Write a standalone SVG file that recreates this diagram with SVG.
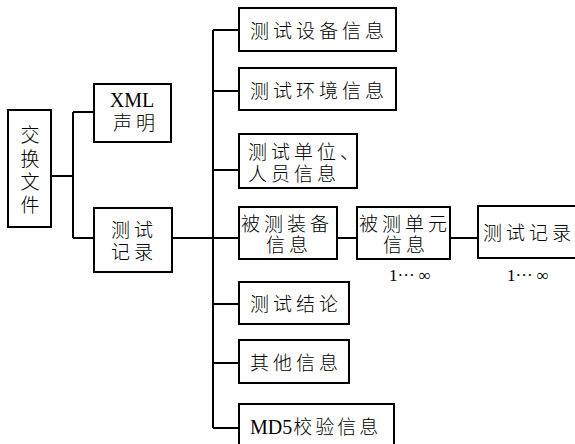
<svg xmlns="http://www.w3.org/2000/svg" width="575" height="444" viewBox="0 0 575 444">
  <style>
    .box { fill: #ffffff; stroke: #000000; stroke-width: 2; }
    .wire { fill: none; stroke: #000000; stroke-width: 2; }
    .t { font-family: "Liberation Serif", "Noto Sans CJK SC", serif; font-size: 19px; font-weight: 300; fill: #000000; letter-spacing: 4px; }
    .c { text-anchor: middle; letter-spacing: 0; }
    .lat { font-family: "Liberation Serif", serif; font-weight: 400; letter-spacing: 0; font-size: 20px; }
    .n { font-family: "Liberation Serif", serif; font-size: 17px; fill: #000000; text-anchor: middle; }
  </style>
  <rect width="575" height="444" fill="#ffffff"/>

  <g id="connectors">
    <path class="wire" d="M51,176 H73 M73,112 V238 M73,112 H94 M73,238 H94"/>
    <path class="wire" d="M172,238 H239 M213,30 V428"/>
    <path class="wire" d="M213,30 H239 M213,91 H239 M213,170 H239 M213,304 H239 M213,363 H239 M213,428 H239"/>
    <path class="wire" d="M337,238 H357 M450,238 H478"/>
  </g>

  <g id="exchange-file">
    <rect class="box" x="8" y="110" width="43" height="117"/>
    <text class="t c" x="30" y="142">交</text>
    <text class="t c" x="30" y="166">换</text>
    <text class="t c" x="30" y="189">文</text>
    <text class="t c" x="30" y="212">件</text>
  </g>

  <g id="xml-declaration">
    <rect class="box" x="94" y="84" width="77" height="58"/>
    <text class="t c lat" x="132" y="107">XML</text>
    <text class="t" x="113" y="130">声明</text>
  </g>

  <g id="test-record">
    <rect class="box" x="94" y="208" width="78" height="64"/>
    <text class="t" x="111" y="237">测试</text>
    <text class="t" x="111" y="259">记录</text>
  </g>

  <g id="equipment-info">
    <rect class="box" x="239" y="8" width="157" height="43"/>
    <text class="t" x="250" y="38">测试设备信息</text>
  </g>

  <g id="environment-info">
    <rect class="box" x="239" y="68" width="157" height="42"/>
    <text class="t" x="250" y="98">测试环境信息</text>
  </g>

  <g id="unit-personnel-info">
    <rect class="box" x="239" y="134" width="118" height="54"/>
    <text class="t" x="248" y="159">测试单位、</text>
    <text class="t" x="248" y="181">人员信息</text>
  </g>

  <g id="tested-equipment-info">
    <rect class="box" x="239" y="207" width="98" height="52"/>
    <text class="t" x="241" y="231">被测装备</text>
    <text class="t" x="266" y="252">信息</text>
  </g>

  <g id="tested-unit-info">
    <rect class="box" x="357" y="207" width="93" height="52"/>
    <text class="t" x="359" y="231">被测单元</text>
    <text class="t" x="383" y="252">信息</text>
    <text class="n" x="410" y="281">1··· ∞</text>
  </g>

  <g id="test-log">
    <rect class="box" x="478" y="206" width="110" height="52"/>
    <text class="t" x="483" y="240">测试记录</text>
    <text class="n" x="528" y="281">1··· ∞</text>
  </g>

  <g id="conclusion">
    <rect class="box" x="239" y="282" width="110" height="42"/>
    <text class="t" x="250" y="311">测试结论</text>
  </g>

  <g id="other-info">
    <rect class="box" x="239" y="340" width="110" height="43"/>
    <text class="t" x="250" y="370">其他信息</text>
  </g>

  <g id="md5-info">
    <rect class="box" x="239" y="404" width="155" height="50"/>
    <text class="t" x="250" y="434"><tspan class="lat">MD5</tspan><tspan dx="1" style="letter-spacing:3px">校验信息</tspan></text>
  </g>
</svg>
